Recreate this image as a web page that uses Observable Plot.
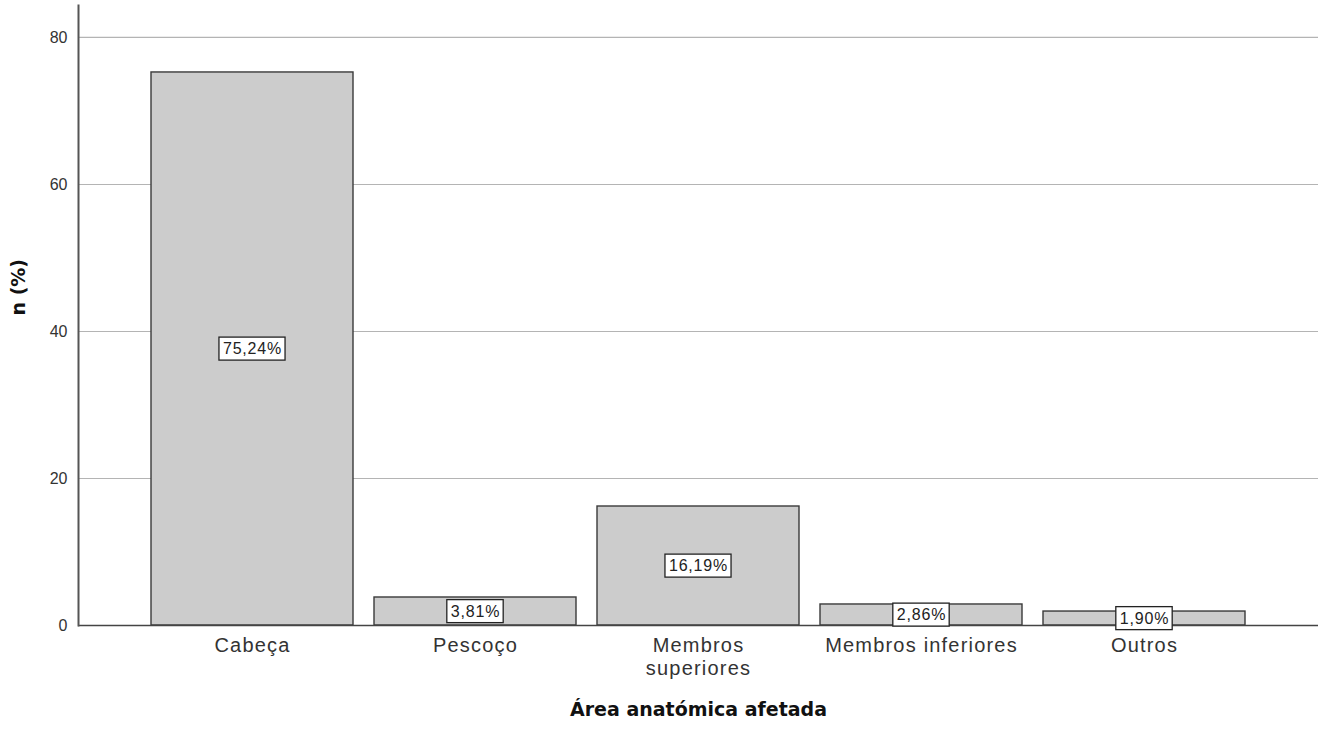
<!DOCTYPE html>
<html>
<head>
<meta charset="utf-8">
<script src="https://cdn.jsdelivr.net/npm/d3@7"></script>
<script src="https://cdn.jsdelivr.net/npm/@observablehq/plot@0.6"></script>
<style>
  html, body { margin: 0; padding: 0; background: #fff; }
  #chart svg { display: block; }
  #chart [aria-label="x-axis tick label"] text { letter-spacing: 1.2px; }
  #chart g.val-labels text { letter-spacing: 0.8px; }
</style>
</head>
<body>
<div id="chart"></div>
<script>
// ---- data ----
const categories = ["Cabeça", "Pescoço", "Membros superiores", "Membros inferiores", "Outros"];
const percents = [75.24, 3.81, 16.19, 2.86, 1.90];
const tickLabels = ["Cabeça", "Pescoço", "Membros\nsuperiores", "Membros inferiores", "Outros"];
const valueLabels = ["75,24%", "3,81%", "16,19%", "2,86%", "1,90%"];
const yTicks = [0, 20, 40, 60, 80];
const xTitle = "Área anatómica afetada";
const yTitle = "n (%)";

const data = categories.map((c, i) => ({cat: c, pct: percents[i], label: valueLabels[i]}));

const plot = Plot.plot({
  width: 1326,
  height: 735,
  marginLeft: 78,
  marginRight: 8,
  marginTop: 5,
  marginBottom: 110,
  style: {fontFamily: "Arial, 'Liberation Sans', sans-serif", background: "#fff", color: "#333"},
  x: {domain: categories, paddingInner: 0.094, paddingOuter: 0.327, label: null},
  y: {domain: [0, 84.35], label: null},
  marks: [
    Plot.gridY(yTicks.filter(d => d > 0), {stroke: "#b4b4b4", strokeOpacity: 1, strokeWidth: 1.2}),
    Plot.barY(data, {x: "cat", y: "pct", fill: "#cccccc", stroke: "#3a3a3a", strokeWidth: 1.4}),
    Plot.ruleY([0], {stroke: "#444", strokeWidth: 1.5}),
    Plot.frame({anchor: "left", stroke: "#555", strokeWidth: 2}),
    Plot.axisY({ticks: yTicks, tickSize: 0, tickPadding: 11, fontSize: 16, label: null, fill: "#333"}),
    Plot.axisX({tickSize: 0, tickPadding: 10, fontSize: 20, lineHeight: 1.15, label: null, fill: "#333",
      tickFormat: (d) => tickLabels[categories.indexOf(d)]}),
    Plot.text(data, {x: "cat", y: d => d.pct / 2, text: "label", fontSize: 16, fill: "#222", className: "val-labels"}),
    Plot.text([xTitle], {frameAnchor: "bottom", dy: 90, fontSize: 19, fontWeight: "bold", fill: "#111",
      fontFamily: "'DejaVu Sans', sans-serif"}),
    Plot.text([yTitle], {frameAnchor: "left", dx: -60, rotate: -90, fontSize: 19, fontWeight: "bold", fill: "#111",
      fontFamily: "'DejaVu Sans', sans-serif"})
  ]
});

document.getElementById("chart").appendChild(plot);

// draw white boxes with border behind value labels
const svgNS = "http://www.w3.org/2000/svg";
const labelGroup = plot.querySelector("g.val-labels") ||
  Array.from(plot.querySelectorAll('g[aria-label="text"]'))[0];
if (labelGroup) {
  labelGroup.querySelectorAll("text").forEach(t => {
    const b = t.getBBox();
    const r = document.createElementNS(svgNS, "rect");
    r.setAttribute("x", b.x - 4);
    r.setAttribute("y", b.y - 3);
    r.setAttribute("width", b.width + 7);
    r.setAttribute("height", b.height + 6);
    r.setAttribute("fill", "#fff");
    r.setAttribute("stroke", "#222");
    r.setAttribute("stroke-width", "1.3");
    const tr = t.getAttribute("transform");
    if (tr) r.setAttribute("transform", tr);
    labelGroup.insertBefore(r, t);
  });
}
</script>
</body>
</html>
